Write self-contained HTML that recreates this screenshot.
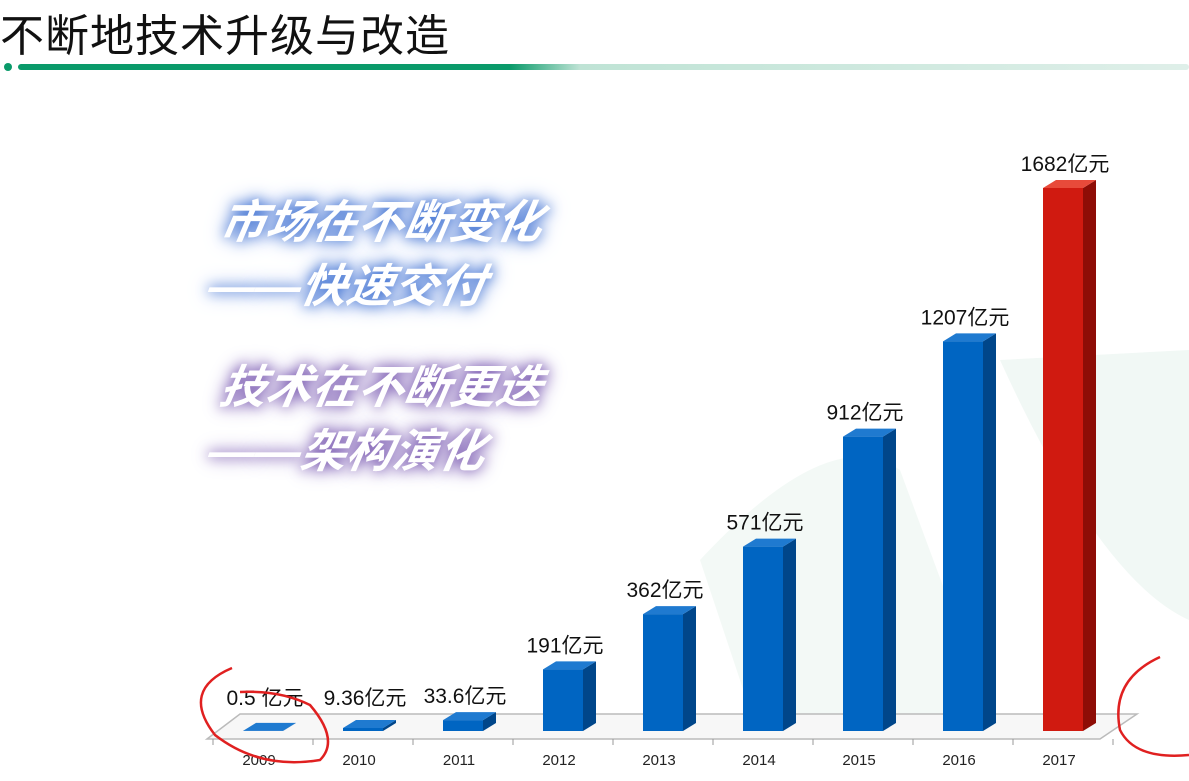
<!DOCTYPE html>
<html><head><meta charset="utf-8">
<style>
body{margin:0;width:1189px;height:781px;overflow:hidden;background:#fff;font-family:"Liberation Sans","Noto Sans CJK SC",sans-serif;position:relative}
.title{position:absolute;left:0;top:0px;font-size:44px;color:#111;letter-spacing:1px}
.slogan{position:absolute;font-size:46px;font-style:italic;color:#fff;font-weight:bold;transform:skewX(-10deg);line-height:64px}
</style></head><body>
<div class="title">不断地技术升级与改造</div>
<svg width="1189" height="781" style="position:absolute;left:0;top:0">
<defs><linearGradient id="ln" x1="0" x2="1"><stop offset="0" stop-color="#0a9a6a"/><stop offset="0.42" stop-color="#0a9a6a"/><stop offset="0.48" stop-color="#bfe3d5"/><stop offset="1" stop-color="#dfefe9"/></linearGradient></defs>
<circle cx="8" cy="67" r="4" fill="#0a9a6a"/>
<rect x="18" y="64" width="1171" height="6" rx="3" fill="url(#ln)"/>
<path d="M1000 360 L1189 350 L1189 620 Q1100 580 1000 360Z" fill="#f1f8f5"/>
<path d="M700 560 Q830 420 900 470 L1000 740 L760 740Z" fill="#f3f9f6"/>
<g id="floor"><polygon points="207,739 240,714 1137,714 1100,739" fill="#f7f7f7" stroke="#bbb" stroke-width="1.5"/></g>
<g id="bars"></g>
</svg>
<div class="slogan" style="left:215px;top:190px;text-shadow:0 0 12px #3b6fd0,0 0 20px #6b8fe0">市场在不断变化<br>——快速交付</div>
<div class="slogan" style="left:215px;top:355px;text-shadow:0 0 12px #7a5ab0,0 0 20px #9a80c8">技术在不断更迭<br>——架构演化</div>
<svg width="1189" height="781" style="position:absolute;left:0;top:0;pointer-events:none">
<path d="M232 668 Q180 690 215 735 Q260 770 320 760 Q340 740 310 705 Q280 690 240 692" fill="none" stroke="#e02020" stroke-width="2.5"/>
<path d="M1160 657 Q1110 680 1120 730 Q1135 760 1189 755" fill="none" stroke="#e02020" stroke-width="2.5"/>
</svg>
<script>
const years=["2009","2010","2011","2012","2013","2014","2015","2016","2017"];
const values=[0.5,9.36,33.6,191,362,571,912,1207,1682];
const labels=["0.5 亿元","9.36亿元","33.6亿元","191亿元","362亿元","571亿元","912亿元","1207亿元","1682亿元"];
const NS="http://www.w3.org/2000/svg";
const g=document.getElementById('bars');
const base=731,scale=543/1682,dx=13,dy=8,w=40;
function xc(i){return 263+100*i;}
function y(v){return base-v*scale;}
function mk(t,a){const e=document.createElementNS(NS,t);for(const k in a)e.setAttribute(k,a[k]);g.appendChild(e);return e;}
for(let i=0;i<=9;i++){const x=213+100*i;const t=mk('line',{x1:x,y1:739,x2:x,y2:745,stroke:'#999'});

}
years.forEach((yr,i)=>{
 const red=i===years.length-1;
 const f=red?'#d01a10':'#0065c2',s=red?'#8e0d06':'#00468a',tp=red?'#e84a3a':'#1f7ad0';
 const l=xc(i)-w/2,r=l+w,top=y(values[i]);
 const bar=document.createElementNS(NS,'g');g.appendChild(bar);
 
 
 const p=(pts,c)=>{const e=document.createElementNS(NS,'polygon');e.setAttribute('points',pts);e.setAttribute('fill',c);bar.appendChild(e);};
 p(`${r},${base} ${r+dx},${base-dy} ${r+dx},${top-dy} ${r},${top}`,s);
 p(`${l},${top} ${l+dx},${top-dy} ${r+dx},${top-dy} ${r},${top}`,tp);
 p(`${l},${base} ${l},${top} ${r},${top} ${r},${base}`,f);
 const lb=mk('text',{x:xc(i)+2,y:Math.min(top-dy-9,705),'text-anchor':'middle','font-size':21,fill:'#111'});
 lb.textContent=labels[i];
 
 
 const yl=mk('text',{x:xc(i)-4,y:765,'text-anchor':'middle','font-size':15,fill:'#222'});
 yl.textContent=yr;
 
 
});
</script>
</body></html>
